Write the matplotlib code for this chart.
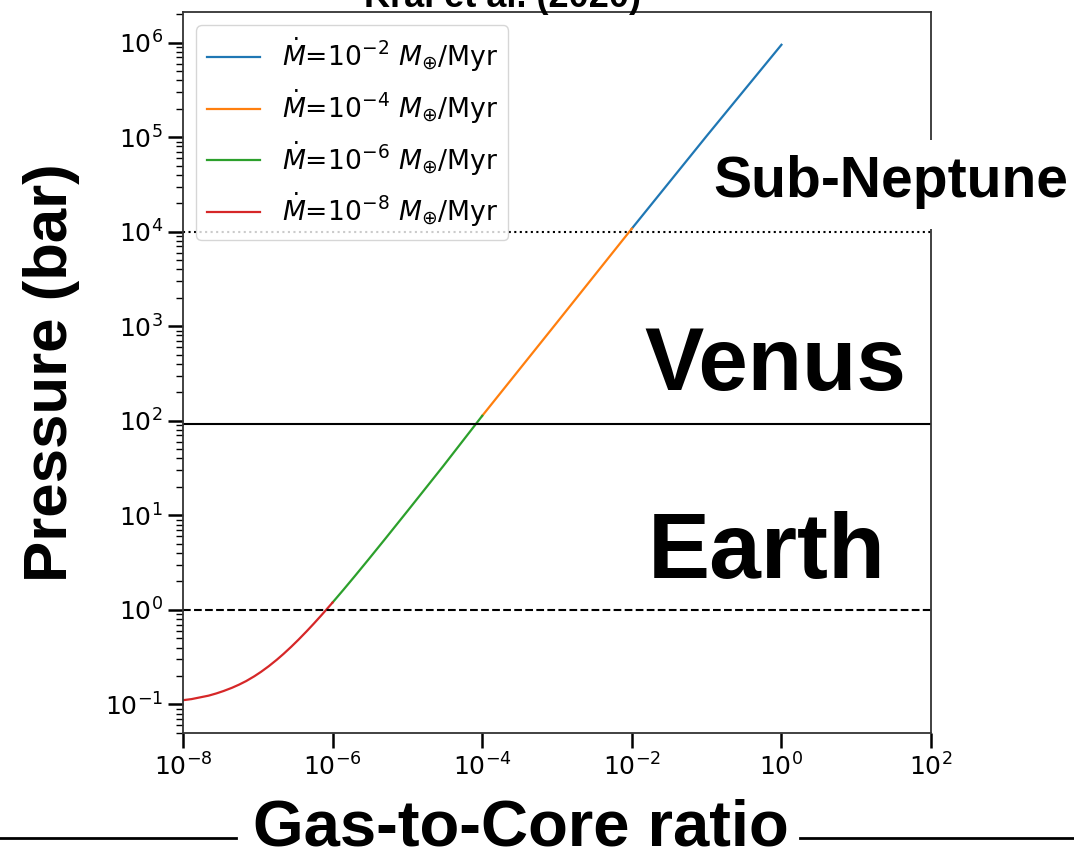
import matplotlib
matplotlib.use("Agg")
import matplotlib.pyplot as plt
from matplotlib.lines import Line2D
from matplotlib.patches import Rectangle

# gas-to-core ratio / surface pressure (bar), one segment per accretion rate
gcr_m8 = [1e-8, 1.3e-8, 1.7e-8, 2.2e-8, 2.8e-8, 3.5e-8, 4.5e-8, 5.6e-8, 7e-8, 9e-8,
          1.1e-7, 1.4e-7, 1.8e-7, 2.2e-7, 2.8e-7, 3.5e-7, 4.5e-7, 5.6e-7, 7e-7,
          8.5e-7, 1e-6]
p_m8 = [0.111, 0.114, 0.119, 0.124, 0.131, 0.139, 0.150, 0.162, 0.177, 0.199,
        0.221, 0.254, 0.298, 0.342, 0.408, 0.485, 0.595, 0.716, 0.87,
        1.035, 1.2]
gcr_m6 = [1e-6, 1.4e-6, 2e-6, 3e-6, 5e-6, 1e-5, 3e-5, 1e-4]
p_m6 = [1.2, 1.64, 2.3, 3.4, 5.6, 11.1, 33.1, 113]
gcr_m4 = [1e-4, 1e-3, 1e-2]
p_m4 = [113, 1.1e3, 1.08e4]
gcr_m2 = [1e-2, 1e-1, 1.0]
p_m2 = [1.08e4, 1.03e5, 9.5e5]

labels = [r'$\dot{M}$=$10^{-2}$ $M_{\oplus}$/Myr',
          r'$\dot{M}$=$10^{-4}$ $M_{\oplus}$/Myr',
          r'$\dot{M}$=$10^{-6}$ $M_{\oplus}$/Myr',
          r'$\dot{M}$=$10^{-8}$ $M_{\oplus}$/Myr']

p_subneptune = 1e4
p_venus = 92
p_earth = 1.0

BOLD = ['Liberation Sans', 'DejaVu Sans']

fig = plt.figure(figsize=(10.74, 8.51), dpi=100)
ax = fig.add_axes([0.1704, 0.1387, 0.8669 - 0.1704, 0.9859 - 0.1387])

ax.plot(gcr_m2, p_m2, color='C0', lw=1.6, label=labels[0])
ax.plot(gcr_m4, p_m4, color='C1', lw=1.6, label=labels[1])
ax.plot(gcr_m6, p_m6, color='C2', lw=1.6, label=labels[2])
ax.plot(gcr_m8, p_m8, color='C3', lw=1.6, label=labels[3])

ax.axhline(p_subneptune, color='k', ls=':', lw=1.5)
ax.axhline(p_venus, color='k', ls='-', lw=1.5)
ax.axhline(p_earth, color='k', ls='--', lw=1.5)

ax.set_xscale('log')
ax.set_yscale('log')
ax.set_xlim(1e-8, 1e2)
ax.set_xticks([1e-8, 1e-6, 1e-4, 1e-2, 1e0, 1e2])
ax.xaxis.set_minor_locator(matplotlib.ticker.NullLocator())

ax.tick_params(which='major', length=11, width=1.8, labelsize=18)
ax.tick_params(which='minor', length=5, width=1.0)
for s in ax.spines.values():
    s.set_linewidth(1.3)
    s.set_color('#333333')

ax.legend(loc='upper left', fontsize=19.2)

# annotations drawn over the figure
fig.text(502 / 1074, 1 - 7 / 851, 'Kral et al. (2020)', family=BOLD,
         weight='bold', fontsize=26, ha='center', va='baseline')
fig.text(52 / 1074, 1 - 373 / 851, 'Pressure (bar)', family=BOLD,
         weight='bold', fontsize=44.5, rotation=90, ha='center', va='center')
fig.text(521 / 1074, 1 - 846 / 851, 'Gas-to-Core ratio', family=BOLD,
         weight='bold', fontsize=47, ha='center', va='baseline')
fig.add_artist(Line2D([0, 236 / 1074], [1 - 838 / 851] * 2, color='k', lw=2,
                      transform=fig.transFigure))
fig.add_artist(Line2D([800 / 1074, 1], [1 - 838 / 851] * 2, color='k', lw=2,
                      transform=fig.transFigure))

fig.add_artist(Rectangle((712 / 1074, 1 - 229 / 851), 1 - 712 / 1074, 89 / 851,
                         transform=fig.transFigure, facecolor='white',
                         edgecolor='none', zorder=2))
fig.text(891 / 1074, 1 - 197 / 851, 'Sub-Neptune', family=BOLD,
         weight='bold', fontsize=41, ha='center', va='baseline', zorder=3)
fig.text(775 / 1074, 1 - 390 / 851, 'Venus', family=BOLD,
         weight='bold', fontsize=64, ha='center', va='baseline')
fig.text(767 / 1074, 1 - 578 / 851, 'Earth', family=BOLD,
         weight='bold', fontsize=67, ha='center', va='baseline')

fig.savefig('out.png', dpi=100)
